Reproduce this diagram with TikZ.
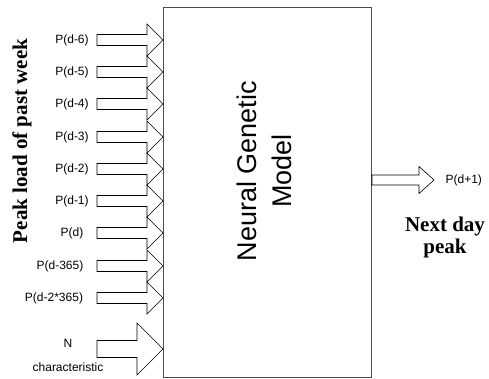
\documentclass[tikz,border=0pt]{standalone}
\usepackage{fontspec}
\setmainfont{Liberation Sans}
\newfontfamily\serifbold{Liberation Serif}
\usetikzlibrary{positioning}

\begin{document}
\begin{tikzpicture}[x=1pt,y=-1pt,line width=0.6pt,
        lbl/.style={font=\fontsize{12}{14}\selectfont},
        fat/.style={draw,fill=white,line join=miter},
        bigtitle/.style={font=\serifbold\bfseries\fontsize{21}{22}\selectfont,align=center}]
    \useasboundingbox (0,0) rectangle (489,378);
    % the model block
    \node[draw=black!70,minimum width=208pt,minimum height=370pt,inner sep=0pt,anchor=north west] (model) at (163,7) {};
    \node[rotate=90,align=center,font=\fontsize{27}{35}\selectfont] (name) at (264,171) {Neural Genetic\\Model};
    % inputs
    \foreach \y/\lx/\t [count=\i] in {40/72/P(d-6),72/72/P(d-5),104/72/P(d-4),137/72/P(d-3),169/72/P(d-2),
            201/72/P(d-1),233/72/P(d),266/60/P(d-365),298/54/P(d-2*365)} {
        \coordinate (in\i) at (163,\y);
        \node[lbl] (l\i) at (\lx,\y) {\t};
        \draw[fat] (in\i) -- ++(-16,-16) -- ++(0,10.5) -- ++(-50,0) -- ++(0,11) -- ++(50,0) -- ++(0,10.5) -- cycle;
    }
    \coordinate (inN) at (163,349);
    \draw[fat] (inN) -- ++(-26,-26) -- ++(0,17.5) -- ++(-40,0) -- ++(0,17) -- ++(40,0) -- ++(0,17.5) -- cycle;
    \node[lbl] (n) at (68,343) {N};
    \node[lbl] (nchar) at (68,367) {characteristic};
    \node[bigtitle,rotate=90] (week) at (22,141) {Peak load of past week};
    % output
    \coordinate (out) at (434,180);
    \draw[fat] (out) -- ++(-15,-13.5) -- ++(0,8.5) -- ++(-47,0) -- ++(0,10) -- ++(47,0) -- ++(0,8.5) -- cycle;
    \node[lbl,right=8pt of out] (pnext) {P(d+1)};
    \node[bigtitle] (nextday) at (445,237) {Next day\\peak};
\end{tikzpicture}
\end{document}
